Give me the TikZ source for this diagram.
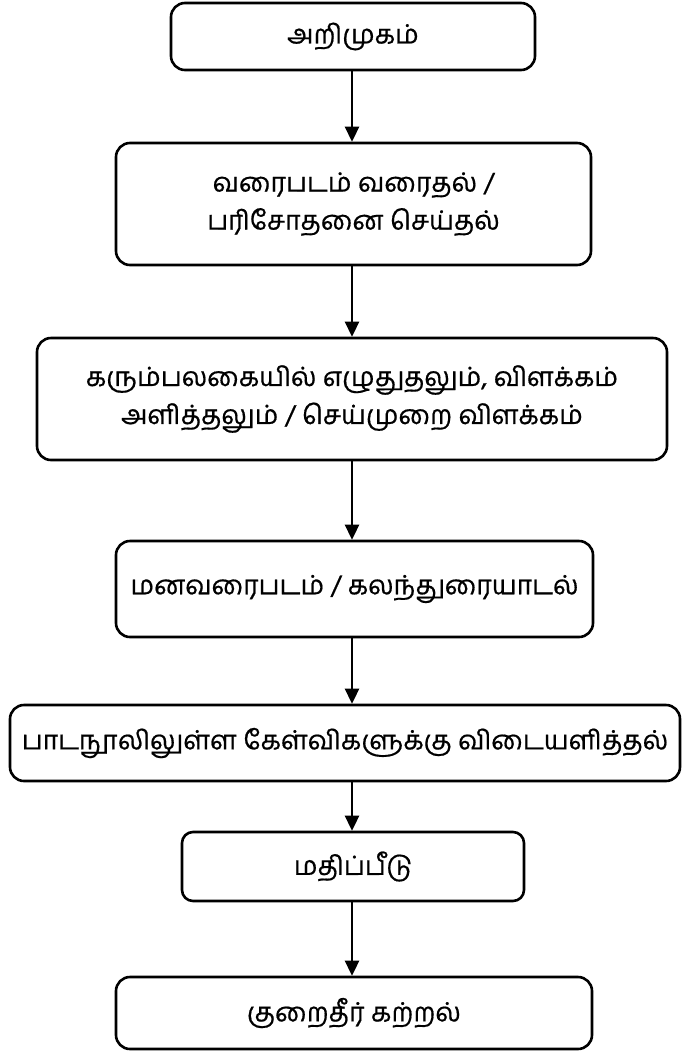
\documentclass[tikz,border=0pt]{standalone}
\usepackage{fontspec}
\newfontfamily\tamil[Script=Tamil,FakeBold=0.6]{Hind Madurai}
\usetikzlibrary{arrows.meta}
\begin{document}
\begin{tikzpicture}[x=1pt,y=-1pt,
  stepbox/.style={draw=black, line width=2.6pt, rounded corners=14pt, inner sep=0pt,
    align=center, font=\tamil\fontsize{26.5}{38}\selectfont},
  arr/.style={line width=2.6pt, -{Triangle[length=15pt,width=14pt]}}]
\useasboundingbox (0,0) rectangle (685,1053);
\coordinate (ax) at (352,0);
\node[stepbox, minimum width=364pt, minimum height=67pt] (n1) at (353,36.5) {அறிமுகம்};
\node[stepbox, minimum width=475pt, minimum height=122pt] (n2) at (353.5,204) {வரைபடம் வரைதல் /\\பரிசோதனை செய்தல்};
\node[stepbox, minimum width=630pt, minimum height=122pt] (n3) at (352,399) {கரும்பலகையில் எழுதுதலும், விளக்கம்\\அளித்தலும் / செய்முறை விளக்கம்};
\node[stepbox, minimum width=477pt, minimum height=96pt] (n4) at (354.5,589) {மனவரைபடம் / கலந்துரையாடல்};
\node[stepbox, minimum width=670pt, minimum height=76pt] (n5) at (345,743) {பாடநூலிலுள்ள கேள்விகளுக்கு விடையளித்தல்};
\node[stepbox, minimum width=342pt, minimum height=69pt, rounded corners=11pt] (n6) at (353,866.5) {மதிப்பீடு};
\node[stepbox, minimum width=476pt, minimum height=72pt] (n7) at (354,1013) {குறைதீர் கற்றல்};
\draw[arr] (n1.south -| ax) -- (n2.north -| ax);
\draw[arr] (n2.south -| ax) -- (n3.north -| ax);
\draw[arr] (n3.south -| ax) -- (n4.north -| ax);
\draw[arr] (n4.south -| ax) -- (n5.north -| ax);
\draw[arr] (n5.south -| ax) -- (n6.north -| ax);
\draw[arr] (n6.south -| ax) -- (n7.north -| ax);
\end{tikzpicture}
\end{document}
